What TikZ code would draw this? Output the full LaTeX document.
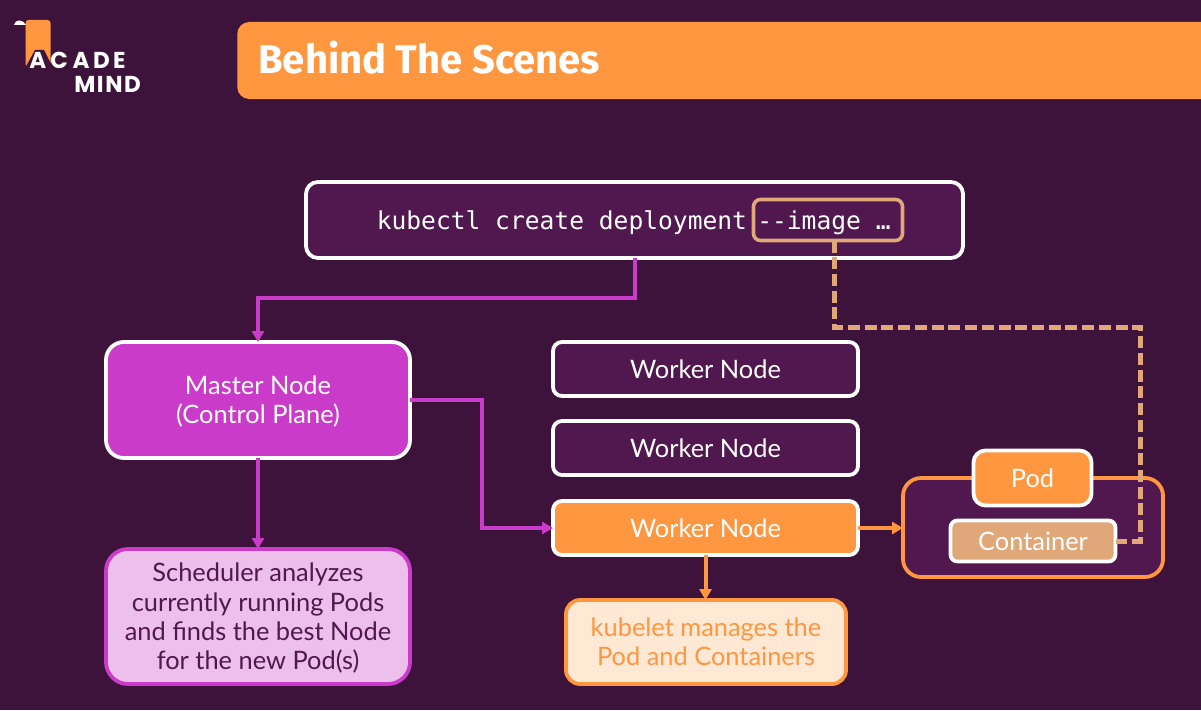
\documentclass[tikz,border=0pt]{standalone}
\usepackage{fontspec}
\setmainfont{Lato}
\newfontfamily\titlefont{Fira Sans}
\newfontfamily\codefont{DejaVu Sans Mono}
\newfontfamily\logofont{Poppins}
\usetikzlibrary{arrows.meta}
\definecolor{bgcol}{HTML}{3E133B}
\definecolor{panelcol}{HTML}{50184F}
\definecolor{orangecol}{HTML}{FF9640}
\definecolor{magentacol}{HTML}{C93BC8}
\definecolor{pinkcol}{HTML}{EDC0EC}
\definecolor{peachcol}{HTML}{FFE9D5}
\definecolor{tancol}{HTML}{E0A778}
\newdimen\px \px=0.75pt
\newcommand\fs[1]{\fontsize{#1\px}{1.15\dimexpr#1\px\relax}\selectfont}
\newcommand\lowered[2]{\raisebox{#1}[0pt][0pt]{\begin{tabular}{@{}c@{}}#2\end{tabular}}}
\tikzset{
  x=0.75pt,y=-0.75pt,
  box/.style={draw=white,line width=3.8\px,rounded corners=12\px,inner sep=0pt,outer sep=0pt,align=center,text=white,font=\fs{25.4}},
  workerbox/.style={box,fill=panelcol,minimum width=305\px,minimum height=54\px,rounded corners=9\px},
  flow/.style={line width=4\px,-{Triangle[length=8.25pt,width=9pt]}},
  magentaflow/.style={flow,draw=magentacol,color=magentacol},
  orangeflow/.style={flow,draw=orangecol,color=orangecol},
  tandash/.style={draw=tancol,line width=5\px,dash pattern=on 9pt off 3.55pt},
}
\begin{document}
\begin{tikzpicture}
\useasboundingbox (0,0) rectangle (1201,710);
\fill[bgcol] (0,0) rectangle (1201,710);
% logo
\fill[orangecol,rounded corners=3\px] (25.5,20) -- (50.5,20) -- (50.5,67) -- (25.5,67) -- cycle;
\fill[white] (14,25) .. controls (15,19) and (23,19) .. (26,25) -- cycle;
\fill[bgcol] (24,70) -- (35,50) -- (44,50) -- (54,70) -- cycle;
\node[anchor=base west,inner sep=0pt,text=white,font={\logofont\bfseries\fs{23}}] (logoa) at (29,68.5) {A};
\node[anchor=base west,inner sep=0pt,text=white,font={\logofont\bfseries\fs{23}}] (logob) at (50,68.5) {C\kern3.6pt A\kern2.6pt D\kern2.6pt E};
\node[anchor=base west,inner sep=0pt,text=white,font={\logofont\bfseries\fs{23}}] (logoc) at (74,92.5) {M\kern1.2pt I\kern1.2pt N\kern1.2pt D};
% title
\node[fill=orangecol,rounded corners=12\px,minimum width=1000\px,minimum height=77\px,anchor=west,inner sep=0pt] (bar) at (237,60.5) {};
\node[anchor=base west,inner sep=0pt,text=white,font={\titlefont\bfseries\fs{40}}] (title) at (258,74) {Behind The Scenes};
% command
\node[box,fill=panelcol,minimum width=657\px,minimum height=76\px] (cmd) at (634.5,220) {};
\node[anchor=base west,inner sep=0pt,text=white,font={\codefont\fs{24.6}}] (cmdt) at (376.5,229) {kubectl create deployment};
\node[draw=tancol,line width=3.6\px,rounded corners=7\px,minimum width=149\px,minimum height=41\px,inner sep=0pt,outer sep=0pt] (img) at (828,220) {};
\node[anchor=base west,inner sep=0pt,text=white,font={\codefont\fs{24.6}}] (imgt) at (757,229) {-{}-image …};
% master
\node[box,fill=magentacol,minimum width=304\px,minimum height=116\px,rounded corners=18\px] (master) at (258,400) {\lowered{-7.76pt}{Master Node\\(Control Plane)}};
% workers
\node[workerbox] (w1) at (705.5,369) {Worker Node};
\node[workerbox] (w2) at (705.5,448) {Worker Node};
\node[workerbox,fill=orangecol] (w3) at (705.5,528) {Worker Node};
% scheduler / kubelet
\node[box,draw=magentacol,fill=pinkcol,text=panelcol,minimum width=304\px,minimum height=135\px,rounded corners=22\px] (sched) at (258,616.5) {\lowered{-7.76pt}{Scheduler analyzes\\currently running Pods\\and finds the best Node\\for the new Pod(s)}};
\node[box,draw=orangecol,fill=peachcol,text=orangecol,minimum width=280\px,minimum height=84\px,rounded corners=14\px] (kube) at (706,642) {\lowered{-7.76pt}{kubelet manages the\\Pod and Containers}};
% pod panel
\node[box,draw=orangecol,fill=panelcol,minimum width=260\px,minimum height=99\px,rounded corners=18\px] (panel) at (1033,527.5) {};
% helper coordinates
\coordinate (c1) at (258,298);
\coordinate (c2) at (482,400);
\coordinate (c3) at (482,528);
\coordinate (c4) at (834,327);
\coordinate (c5) at (1140,327);
\coordinate (c6) at (1140,541);
\coordinate (m1) at (master.east |- c2);
% pod, container
\node[box,fill=orangecol,minimum width=118\px,minimum height=55\px] (pod) at (1032.5,478) {Pod};
\node[box,fill=tancol,minimum width=165\px,minimum height=41\px,rounded corners=7\px] (cont) at (1033,541) {Container};
% connectors
\draw[magentaflow] (cmd.south) |- (c1) -- (master.north);
\draw[magentaflow] (m1) -- (c2) -- (c3) -- (w3.west);
\draw[magentaflow] (master.south) -- (sched.north);
\draw[orangeflow] (w3.south) -- (w3.south |- kube.north);
\draw[orangeflow] (w3.east) -- (w3.east -| panel.west);
\draw[tandash] (img.south -| c4) -- (c4) -- (c5) -- (c6) -- (cont.east);
\end{tikzpicture}
\end{document}
